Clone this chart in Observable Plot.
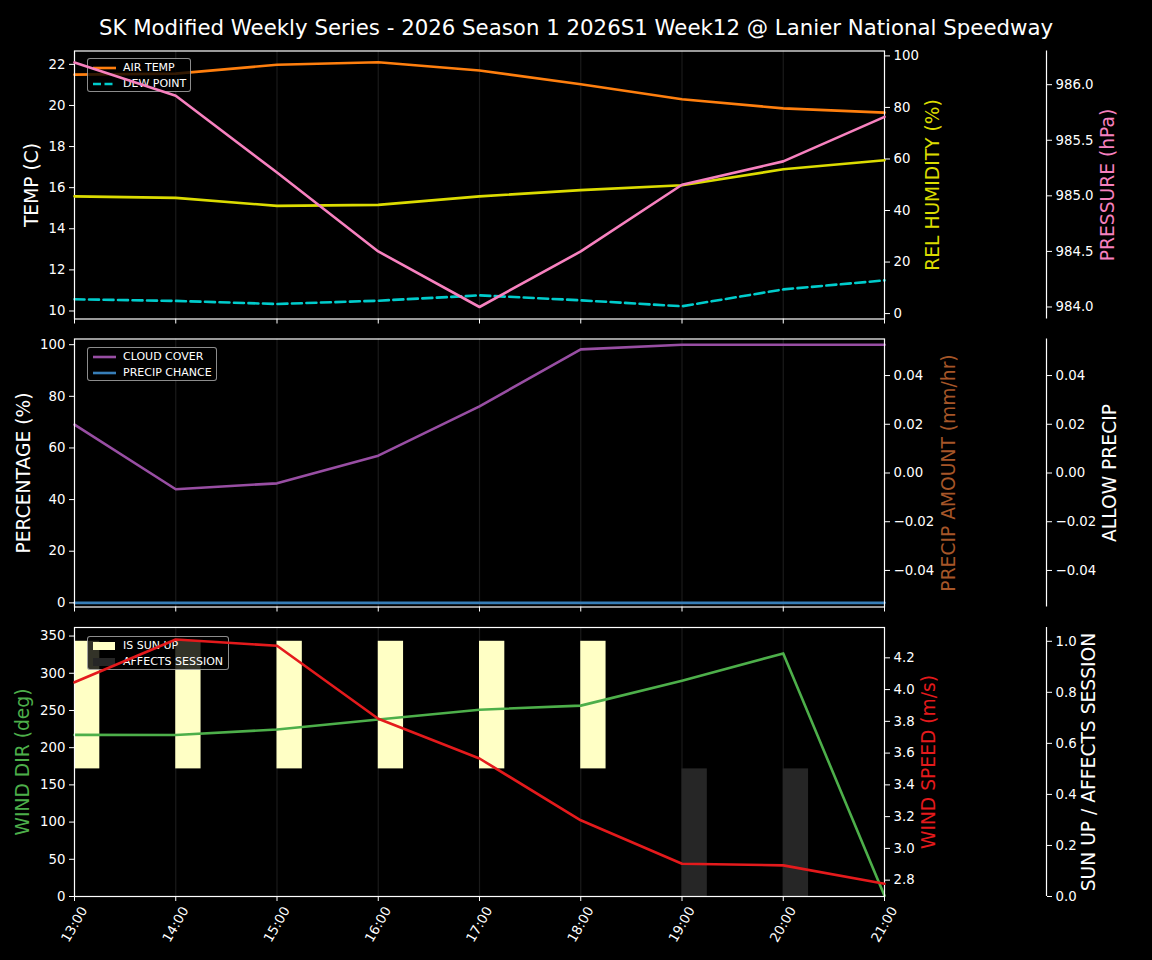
<!DOCTYPE html>
<html>
<head>
<meta charset="utf-8">
<script src="https://cdn.jsdelivr.net/npm/d3@7"></script>
<script src="https://cdn.jsdelivr.net/npm/@observablehq/plot@0.6"></script>
<style>
  html, body { margin: 0; padding: 0; background: #000; }
  #wrap { position: relative; width: 1152px; height: 960px; background: #000; overflow: hidden; font-family: "DejaVu Sans", sans-serif; }
  #wrap > svg { position: absolute; left: 0; top: 0; }
  .title { position: absolute; left: 0; top: 15px; width: 1152px; text-align: center; color: #fff; font-size: 21.3px; line-height: 26px; white-space: nowrap; }
  .legend { position: absolute; box-sizing: border-box; border: 1px solid rgba(255,255,255,0.55); border-radius: 3px; background: rgba(0,0,0,0.8); }
  .legend .item { position: absolute; left: 0; height: 16px; width: 100%; }
  .legend .item span { position: absolute; left: 35px; top: 0; line-height: 16px; font-size: 11px; color: #fff; white-space: nowrap; }
  .legend .item svg { position: absolute; left: 4px; top: 0; }
</style>
</head>
<body>
<div id="wrap">
  <div class="title">SK Modified Weekly Series - 2026 Season 1 2026S1 Week12 @ Lanier National Speedway</div>
</div>
<script>
// ---------------- DATA ----------------
const hours = [13, 14, 15, 16, 17, 18, 19, 20, 21];
const hourLabels = ["13:00", "14:00", "15:00", "16:00", "17:00", "18:00", "19:00", "20:00", "21:00"];

const airTemp      = [21.50, 21.55, 21.98, 22.10, 21.70, 21.03, 20.30, 19.86, 19.65];
const dewPoint     = [10.57, 10.49, 10.34, 10.50, 10.76, 10.52, 10.23, 11.05, 11.49];
const relHumidity  = [45.5, 44.9, 41.8, 42.2, 45.5, 47.9, 49.8, 56.0, 59.5];
const pressure     = [986.20, 985.90, 985.21, 984.50, 984.00, 984.50, 985.10, 985.31, 985.71];

const cloudCover   = [69.0, 44.0, 46.3, 57.0, 76.1, 98.2, 100, 100, 100];
const precipChance = [0, 0, 0, 0, 0, 0, 0, 0, 0];
const precipAmount = [0, 0, 0, 0, 0, 0, 0, 0, 0];
const allowPrecip  = [0, 0, 0, 0, 0, 0, 0, 0, 0];

const windDir      = [217.2, 217.0, 224.4, 237.8, 251.0, 256.5, 290.0, 326.7, 1.0];
const windSpeed    = [4.046, 4.315, 4.276, 3.816, 3.566, 3.177, 2.903, 2.893, 2.777];
const isSunUp      = [1, 1, 1, 1, 1, 1, 0, 0, 0];
const affectsSess  = [0, 0, 0, 0, 0, 0, 1, 1, 1];

// tick values
const tempTicks      = [10, 12, 14, 16, 18, 20, 22];
const humidityTicks  = [0, 20, 40, 60, 80, 100];
const pressureTicks  = [984.0, 984.5, 985.0, 985.5, 986.0];
const percentTicks   = [0, 20, 40, 60, 80, 100];
const precipTicks    = [-0.04, -0.02, 0.00, 0.02, 0.04];
const windDirTicks   = [0, 50, 100, 150, 200, 250, 300, 350];
const windSpeedTicks = [2.8, 3.0, 3.2, 3.4, 3.6, 3.8, 4.0, 4.2];
const sunTicks       = [0.0, 0.2, 0.4, 0.6, 0.8, 1.0];

// axis domains
const tempDomain      = [9.61, 22.65];
const humidityDomain  = [-2.1, 101.9];
const pressureDomain  = [983.892, 986.303];
const percentDomain   = [-1.6, 102.2];
const precipDomain    = [-0.055, 0.055];
const windDirDomain   = [0, 361.5];
const windSpeedDomain = [2.697, 4.391];
const sunDomain       = [0, 1.054];

// colours
const C = {
  air: "#ff7f0e", dew: "#00cccc", hum: "#dcdc00", press: "#f781bf",
  cloud: "#984ea3", chance: "#377eb8", amount: "#a65628",
  dir: "#4daf4a", speed: "#e41a1c", sun: "#ffffc5", sess: "#262626"
};

const rows = hours.map((h, i) => ({
  hour: h, label: hourLabels[i],
  airTemp: airTemp[i], dewPoint: dewPoint[i], relHumidity: relHumidity[i], pressure: pressure[i],
  cloudCover: cloudCover[i], precipChance: precipChance[i], precipAmount: precipAmount[i], allowPrecip: allowPrecip[i],
  windDir: windDir[i], windSpeed: windSpeed[i], isSunUp: isSunUp[i], affectsSess: affectsSess[i]
}));

// ---------------- LAYOUT ----------------
const W = 1152, H = 960;
const panels = [{top: 50.5, bottom: 318.5}, {top: 338.5, bottom: 606.5}, {top: 627, bottom: 896}];
const barWidth = 0.25; // hours
const LW = 2.6;
const wrap = document.getElementById("wrap");

function layer({panel, left = 74, right = 884, y, marks}) {
  const p = panels[panel];
  const svg = Plot.plot({
    width: W, height: H,
    marginLeft: left, marginRight: W - right,
    marginTop: p.top, marginBottom: H - p.bottom,
    x: {domain: [13, 21], axis: null},
    y: {domain: y, axis: null},
    style: {background: "none", color: "#fff", fontFamily: "'DejaVu Sans', sans-serif", fontSize: "13.3px", overflow: "visible"},
    marks
  });
  wrap.appendChild(svg);
}

const grid = () => Plot.gridX({ticks: hours, stroke: "#fff", strokeOpacity: 0.1, strokeWidth: 1.2});
const xTicks = () => Plot.axisX({anchor: "bottom", ticks: hours, tickFormat: () => "", tickSize: 5, label: null});
const yAxis = (anchor, ticks, fmt) => Plot.axisY({anchor, ticks, tickFormat: fmt, tickSize: 5, tickPadding: 4, label: null});
const axisLabel = (text, anchor, dx, color) =>
  Plot.text([text], {text: d => d, frameAnchor: anchor, dx, rotate: -90, fill: color, fontSize: 18.7, textAnchor: "middle", lineAnchor: "middle"});
const spine = () => Plot.ruleX([21], {stroke: "#fff", strokeWidth: 1.2});

function legend(left, top, width, items) {
  const box = document.createElement("div");
  box.className = "legend";
  Object.assign(box.style, {left: left + "px", top: top + "px", width: width + "px", height: "34px"});
  items.forEach((it, i) => {
    const row = document.createElement("div");
    row.className = "item";
    row.style.top = (1 + i * 16) + "px";
    let sw;
    if (it.type === "rect") sw = `<svg width="26" height="16"><rect x="1" y="4" width="22" height="8" fill="${it.color}"/></svg>`;
    else sw = `<svg width="26" height="16"><line x1="1" y1="8" x2="24" y2="8" stroke="${it.color}" stroke-width="${LW}" ${it.dash ? 'stroke-dasharray="8,3.5"' : ""}/></svg>`;
    row.innerHTML = sw + `<span>${it.label}</span>`;
    box.appendChild(row);
  });
  wrap.appendChild(box);
}

const fmt0 = d3.format("d"), fmt1 = d3.format(".1f"), fmt2 = d3.format(".2f");

// ---------------- PANEL 1 ----------------
layer({panel: 0, y: tempDomain, marks: [
  grid(),
  Plot.line(rows, {x: "hour", y: "airTemp", stroke: C.air, strokeWidth: LW}),
  Plot.line(rows, {x: "hour", y: "dewPoint", stroke: C.dew, strokeWidth: LW, strokeDasharray: "10,4.5"}),
  yAxis("left", tempTicks, fmt0),
  xTicks(),
  Plot.frame({stroke: "#fff", strokeWidth: 1.2}),
  axisLabel("TEMP (C)", "left", -42.5, "#fff")
]});
legend(87, 58, 104, [{label: "AIR TEMP", color: C.air}, {label: "DEW POINT", color: C.dew, dash: true}]);
layer({panel: 0, y: humidityDomain, marks: [
  Plot.line(rows, {x: "hour", y: "relHumidity", stroke: C.hum, strokeWidth: LW}),
  yAxis("right", humidityTicks, fmt0),
  axisLabel("REL HUMIDITY (%)", "right", 48.5, C.hum)
]});
layer({panel: 0, y: pressureDomain, marks: [
  Plot.line(rows, {x: "hour", y: "pressure", stroke: C.press, strokeWidth: LW})
]});
layer({panel: 0, left: 1000, right: 1046, y: pressureDomain, marks: [
  spine(),
  yAxis("right", pressureTicks, fmt1),
  axisLabel("PRESSURE (hPa)", "right", 62, C.press)
]});

// ---------------- PANEL 2 ----------------
layer({panel: 1, y: percentDomain, marks: [
  grid(),
  Plot.line(rows, {x: "hour", y: "cloudCover", stroke: C.cloud, strokeWidth: LW}),
  Plot.line(rows, {x: "hour", y: "precipChance", stroke: C.chance, strokeWidth: LW}),
  yAxis("left", percentTicks, fmt0),
  xTicks(),
  Plot.frame({stroke: "#fff", strokeWidth: 1.2}),
  axisLabel("PERCENTAGE (%)", "left", -50.5, "#fff")
]});
legend(87, 347, 130, [{label: "CLOUD COVER", color: C.cloud}, {label: "PRECIP CHANCE", color: C.chance}]);
layer({panel: 1, y: precipDomain, marks: [
  Plot.rect(rows, {x1: "hour", x2: d => d.hour + barWidth, y1: 0, y2: "precipAmount", fill: C.amount, clip: true}),
  yAxis("right", precipTicks, fmt2),
  axisLabel("PRECIP AMOUNT (mm/hr)", "right", 65, C.amount)
]});
layer({panel: 1, left: 1000, right: 1046, y: precipDomain, marks: [
  spine(),
  yAxis("right", precipTicks, fmt2),
  axisLabel("ALLOW PRECIP", "right", 64, "#fff")
]});

// ---------------- PANEL 3 ----------------
layer({panel: 2, y: sunDomain, marks: [
  grid(),
  Plot.rect(rows.filter(d => d.isSunUp), {x1: "hour", x2: d => d.hour + barWidth, y1: 0.5, y2: d => 0.5 + 0.5 * d.isSunUp, fill: C.sun, clip: true}),
  Plot.rect(rows.filter(d => d.affectsSess), {x1: "hour", x2: d => d.hour + barWidth, y1: 0, y2: d => 0.5 * d.affectsSess, fill: C.sess, clip: true})
]});
legend(87, 636, 142, [{label: "IS SUN UP", color: C.sun, type: "rect"}, {label: "AFFECTS SESSION", color: C.sess, type: "rect"}]);
layer({panel: 2, y: windDirDomain, marks: [
  Plot.line(rows, {x: "hour", y: "windDir", stroke: C.dir, strokeWidth: LW}),
  yAxis("left", windDirTicks, fmt0),
  xTicks(),
  Plot.text(rows, {x: "hour", text: "label", frameAnchor: "bottom", dy: 28, rotate: -60, textAnchor: "middle", lineAnchor: "middle", fill: "#fff"}),
  Plot.frame({stroke: "#fff", strokeWidth: 1.2}),
  axisLabel("WIND DIR (deg)", "left", -51.5, C.dir)
]});
layer({panel: 2, y: windSpeedDomain, marks: [
  Plot.line(rows, {x: "hour", y: "windSpeed", stroke: C.speed, strokeWidth: LW}),
  yAxis("right", windSpeedTicks, fmt1),
  axisLabel("WIND SPEED (m/s)", "right", 45, C.speed)
]});
layer({panel: 2, left: 1000, right: 1046, y: sunDomain, marks: [
  spine(),
  yAxis("right", sunTicks, fmt1),
  axisLabel("SUN UP / AFFECTS SESSION", "right", 43, "#fff")
]});
</script>
</body>
</html>
